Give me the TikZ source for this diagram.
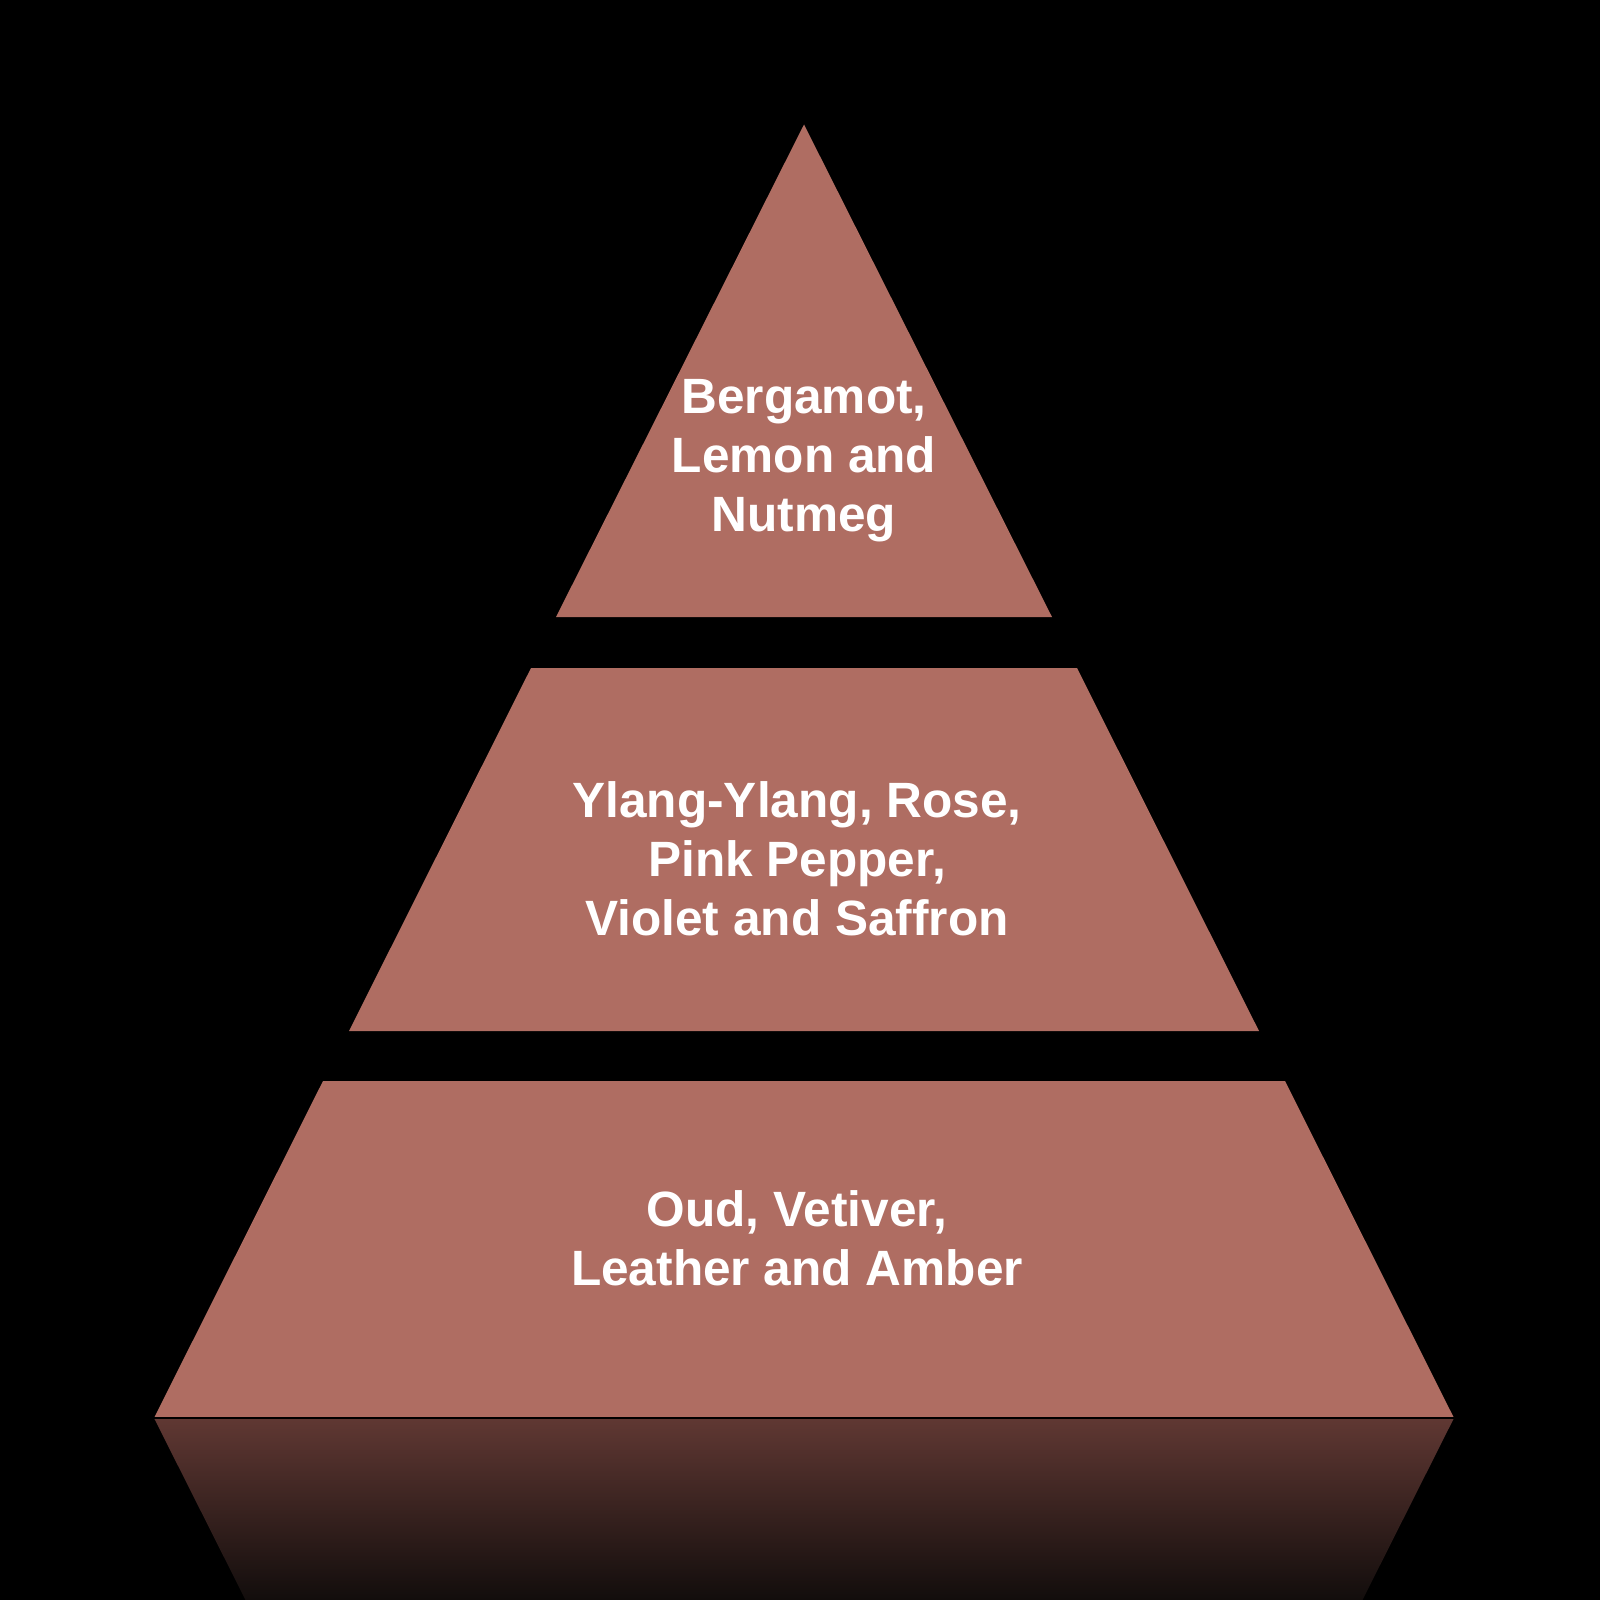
\documentclass[tikz,border=0pt]{standalone}
\usepackage{fontspec}
\setmainfont{Liberation Sans}
\definecolor{tierfill}{RGB}{175,109,98}
\definecolor{reftop}{RGB}{96,56,51}
\definecolor{refbot}{RGB}{18,13,12}
\tikzset{
  tier/.style={fill=tierfill, draw=none},
  tiertext/.style={text=white, font=\fontsize{14.1}{16.8}\selectfont\bfseries, align=center, inner sep=0pt}
}
\begin{document}
\begin{tikzpicture}[x=0.01cm,y=-0.01cm]
\fill[black] (0,0) rectangle (1600,1600);
\useasboundingbox (0,0) rectangle (1600,1600);
% reflection
\shade[top color=reftop, bottom color=refbot] (154,1418) -- (1454,1418) -- (1362.5,1600) -- (245.5,1600) -- cycle;
% tiers
\fill[tier] (804,124.5) -- (1052,617) -- (556,617) -- cycle;
\fill[tier] (531,668) -- (1077,668) -- (1259,1031) -- (349,1031) -- cycle;
\fill[tier] (323,1081) -- (1285,1081) -- (1454,1418) -- (154,1418) -- cycle;
\draw[black, line width=0.6pt] (154,1418) -- (1454,1418);
% texts
\node[tiertext] (top) at (804,461) {Bergamot,\\Lemon and\\Nutmeg};
\node[tiertext] (mid) at (797,859) {Ylang-Ylang, Rose,\\Pink Pepper,\\Violet and Saffron};
\node[tiertext] (base) at (797,1238) {Oud, Vetiver,\\Leather and Amber};
\end{tikzpicture}
\end{document}
